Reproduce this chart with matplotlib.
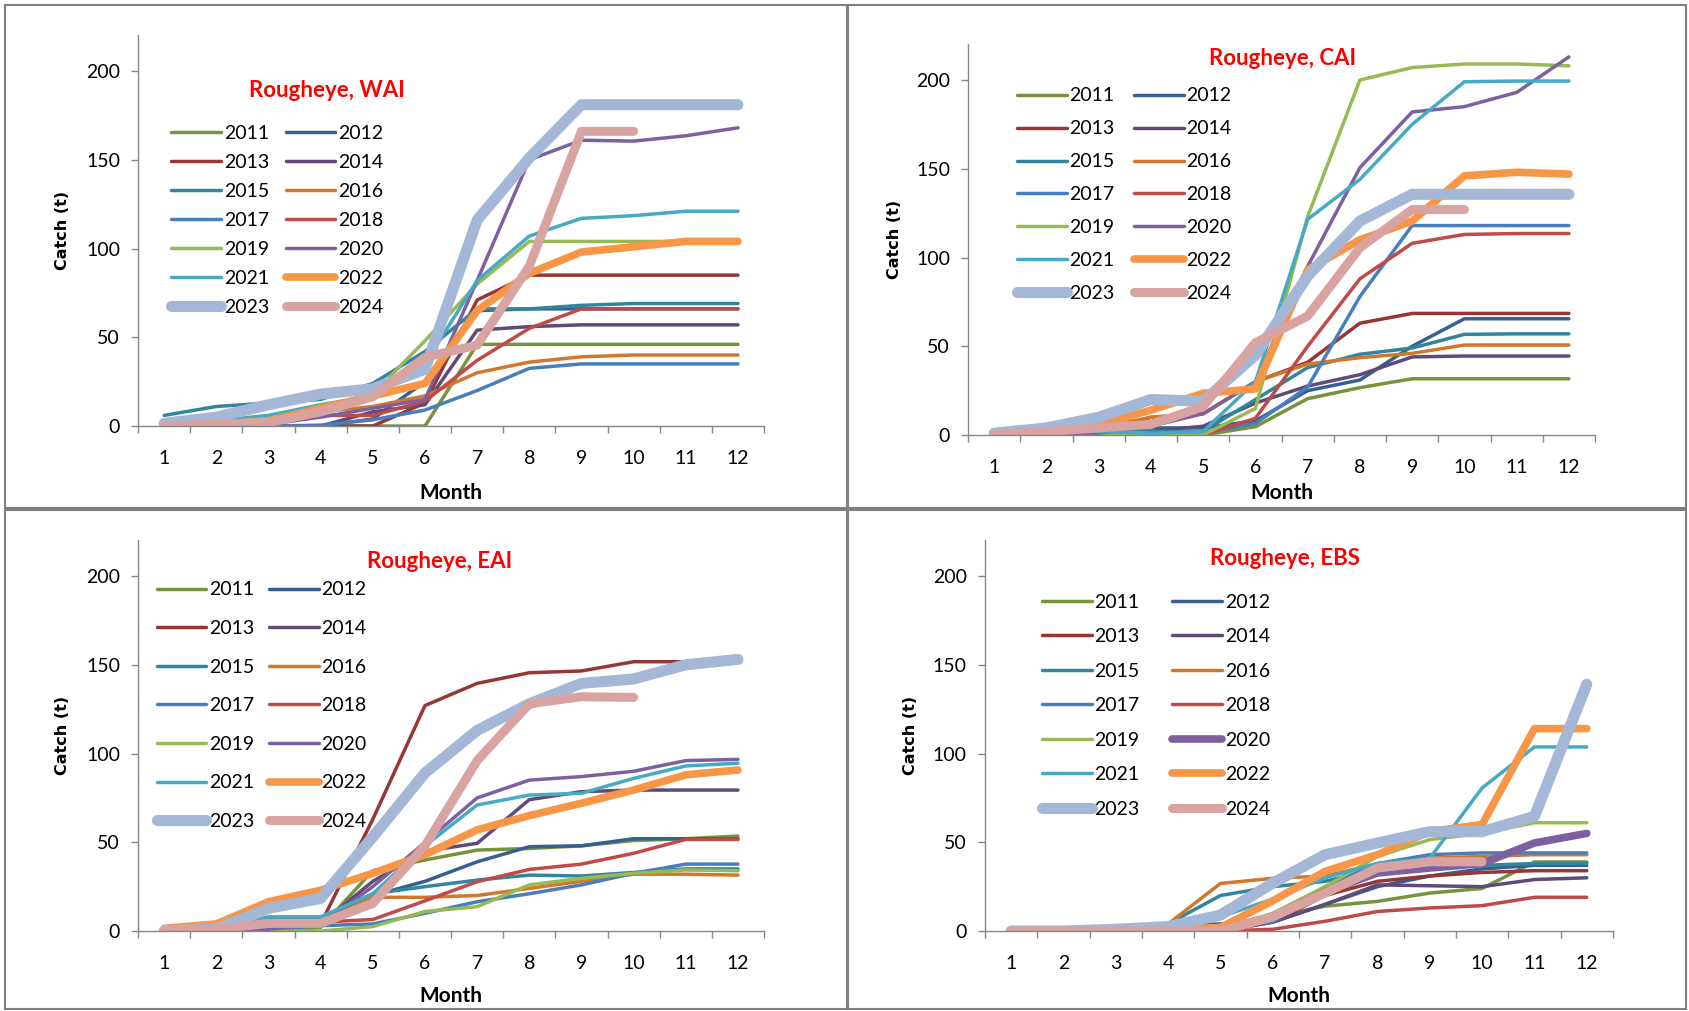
import numpy as np
import matplotlib.pyplot as plt
from matplotlib.patches import Rectangle

months = list(range(1, 13))
years = [2011, 2012, 2013, 2014, 2015, 2016, 2017, 2018, 2019, 2020, 2021, 2022, 2023, 2024]

# cumulative catch (t) by month, one row per year
wai = [
    [0, 0, 0, 0, 0, 0, 46, 46, 46, 46, 46, 46],
    [0, 0, 0, 0, 4, 25, 65, 66, 66, 66, 66, 66],
    [0, 0, 0, 0, 0, 13, 71, 85, 85, 85, 85, 85],
    [0, 0, 0, 0, 8, 12, 54, 56, 57, 57, 57, 57],
    [6, 11, 13, 15, 24, 42, 66, 66, 68, 69, 69, 69],
    [1, 2, 4, 8, 11, 17, 30, 36, 39, 40, 40, 40],
    [0, 0, 0, 0.5, 3.5, 9, 20, 32.5, 35, 35, 35, 35],
    [0, 0, 1, 6, 6, 14, 37, 55, 66, 66, 66, 66],
    [0, 1, 2, 8, 18, 48, 80, 104, 104, 104, 104, 104],
    [0, 0, 1, 5, 10, 15, 82, 150, 161, 160.5, 163.5, 168],
    [2, 3, 6, 12, 17, 35, 82, 107, 117, 118.5, 121, 121],
    [0, 1, 3, 10, 17, 24, 65, 86, 98, 101, 104, 104],
    [1.5, 5, 12, 18, 21, 32, 116, 151, 181, 181, 181, 181],
    [0, 1, 2, 8, 16.5, 38.7, 45.6, 90, 166, 166, None, None],
]

cai = [
    [0, 0, 0, 0, 0, 4.7, 20.5, 26.7, 31.7, 31.7, 31.7, 31.7],
    [2, 3, 3, 4, 4, 8, 25, 31, 50, 65.5, 65.5, 65.5],
    [0, 1, 2, 10, 12, 30, 41, 63, 68.5, 68.5, 68.5, 68.5],
    [0, 0, 0, 2, 5, 18, 27.6, 34, 44, 44.5, 44.5, 44.5],
    [3, 4, 3, 2, 2, 20, 38, 45.5, 49, 56.7, 57, 57],
    [1, 2, 4, 10, 12, 30, 40, 43.6, 46, 50.7, 50.7, 50.7],
    [0, 0, 0, 0, 1, 6.5, 27, 78, 118, 118, 118, 118],
    [0, 0, 0, 0, 0, 9.4, 50, 88, 108, 113, 113.5, 113.5],
    [0, 0, 0, 0, 0, 15, 123, 200, 207, 209, 209, 208],
    [0, 0, 1, 5, 12, 30, 95, 150.6, 182, 185, 193, 213],
    [2, 3, 2, 1, 2, 30, 121.5, 144, 175, 199, 199.4, 199.4],
    [1, 3, 6, 14, 23.5, 26, 93, 110, 120.5, 146, 148, 147],
    [1, 4, 10, 20, 19, 45, 89.6, 120.5, 135.6, 135.6, 135.6, 135.6],
    [0, 2, 4, 6, 16, 52, 67, 105.5, 127, 127, None, None],
]

eai = [
    [0, 0, 0, 2, 34, 40, 45.6, 46.5, 48, 51, 52, 53.5],
    [0, 0, 0, 4, 20, 28, 39, 47.5, 48, 52, 52, 52],
    [0, 0, 0, 4, 63, 127, 139.5, 145.5, 146.5, 151.7, 151.7, 152],
    [0, 0, 1, 4, 28, 45, 49.4, 74, 78.5, 79.4, 79.4, 79.4],
    [0, 1, 7, 7, 21, 25, 28.7, 31.5, 31, 33, 35, 35],
    [0, 1, 3, 5, 19, 19, 20, 24, 28, 32, 32, 31.5],
    [0, 0, 1, 3, 4, 10, 16.5, 21, 26, 32.5, 37.7, 37.7],
    [0, 0, 1, 5, 6.5, 17, 27.8, 34.7, 37.7, 43.8, 51.6, 51.6],
    [0, 0, 0, 0, 2.5, 11, 13.7, 26, 29.7, 32.5, 34.4, 34],
    [0, 0, 1, 4, 25, 50, 75, 85, 87, 90, 96, 96.7],
    [0, 1, 8, 8, 21, 48, 71, 76.6, 77.6, 86, 93, 94.5],
    [1.5, 4, 16.5, 23, 32.5, 43, 57, 65, 72, 79.4, 88, 90.7],
    [0, 1, 12.8, 18.4, 53, 89, 113, 128, 139.5, 142, 150, 153],
    [0, 1, 4.3, 4.3, 15.6, 48, 96, 128, 132, 131.6, None, None],
]

ebs = [
    [0, 0, 0, 0, 1, 8, 14, 16.7, 21.4, 24, 38.9, 38.9],
    [0, 0, 2, 3, 4, 5, 15, 25, 31, 35, 37, 37],
    [0, 0, 0, 0, 0, 5, 20, 28, 31, 33, 34, 34],
    [0, 0, 0, 0, 0, 5, 15, 26, 25.5, 25, 29, 30],
    [0, 0, 1, 4, 20, 25, 28, 35, 37, 37, 38, 38.3],
    [0, 0, 2, 4, 26.8, 29.7, 31, 38, 41, 42, 43, 43],
    [0, 0, 1, 2, 3, 5, 25, 38, 43, 44, 44, 44],
    [0, 0, 0, 0, 0, 1, 5.5, 11, 13, 14.3, 19, 19],
    [0, 0, 0, 0, 1, 10, 25, 42, 51.5, 55, 61, 61],
    [0, 0, 0, 0, 1, 8, 22, 32.7, 35.5, 38, 49.6, 55],
    [0, 0, 0, 1, 8, 18, 30, 38, 41, 80.6, 103.7, 103.7],
    [0, 0, 0, 1, 2, 17, 33.6, 43, 56, 60, 114, 114],
    [0, 0, 1, 2.5, 9, 27, 43, 49.6, 56, 56, 64.6, 139],
    [0, 0, 0, 0, 0, 8, 21.4, 35.5, 39, 39, None, None],
]

colors = ['#77933C', '#376092', '#953735', '#604A7B', '#31859C', '#D2782E', '#4A7EBB',
          '#BE4B48', '#98B954', '#7D60A0', '#46AAC5', '#F79646', '#A5B7D6', '#D8A3A1']

# name, data, axes rect, title pos, legend anchor, labelspacing, columnspacing, ylabel x, xlabel y, thick years
panels = [
    ("Rougheye, WAI", wai, [0.0817, 0.5786, 0.3704, 0.3863], (0.302, 0.860), (0.053, 0.772), 0.62, 0.85, -0.109, -0.172, [2022]),
    ("Rougheye, CAI", cai, [0.5728, 0.5697, 0.3710, 0.3863], (0.502, 0.965), (0.078, 0.890), 0.82, 1.0, -0.105, -0.149, [2022]),
    ("Rougheye, EAI", eai, [0.0817, 0.0791, 0.3704, 0.3863], (0.482, 0.945), (0.030, 0.895), 1.11, 0.74, -0.109, -0.166, [2022]),
    ("Rougheye, EBS", ebs, [0.5828, 0.0791, 0.3716, 0.3863], (0.478, 0.953), (0.091, 0.864), 0.90, 1.67, -0.107, -0.166, [2020, 2022]),
]

fig = plt.figure(figsize=(16.9, 10.11), dpi=100)

# panel frames (like separate Excel chart boxes)
for x0, y0, x1, y1 in [(5, 5, 847, 508), (848, 5, 1686, 508), (5, 510, 847, 1009), (848, 510, 1686, 1009)]:
    fig.add_artist(Rectangle((x0 / 1690, 1 - y1 / 1011), (x1 - x0) / 1690, (y1 - y0) / 1011,
                             transform=fig.transFigure, fill=False, edgecolor='#7f7f7f', lw=1.5))

for title, data, rect, tpos, lpos, lsp, csp, ylx, xly, thick in panels:
    ax = fig.add_axes(rect)
    vals = np.array(data, dtype=float)
    for i, yr in enumerate(years):
        if yr == 2023:
            lw = 8
        elif yr == 2024:
            lw = 6.5
        elif yr in thick:
            lw = 5.5
        else:
            lw = 2.5
        ax.plot(months, vals[i], color=colors[i], lw=lw, label=str(yr),
                solid_capstyle='round', solid_joinstyle='round')

    ax.set_xlim(0.5, 12.5)
    ax.set_ylim(0, 220)
    ax.set_yticks([0, 50, 100, 150, 200])
    ax.set_xticks(months)
    ax.set_xticks(np.arange(0.5, 13, 1), minor=True)
    ax.tick_params(axis='x', which='major', length=0, pad=17, labelsize=14)
    ax.tick_params(axis='x', which='minor', length=5, width=1, color='#868686', direction='out')
    ax.tick_params(axis='y', length=5, width=1, color='#868686', pad=8, labelsize=14)
    for lab in ax.get_xticklabels() + ax.get_yticklabels():
        lab.set_fontfamily('Lato')
    for s in ['top', 'right']:
        ax.spines[s].set_visible(False)
    for s in ['left', 'bottom']:
        ax.spines[s].set_color('#868686')
        ax.spines[s].set_linewidth(1)

    ax.set_ylabel('Catch (t)', fontfamily='DejaVu Sans', fontweight='bold', fontsize=11.5)
    ax.yaxis.set_label_coords(ylx, 0.5)
    ax.set_xlabel('Month', fontfamily='Lato', fontweight='bold', fontsize=15, va='center')
    ax.xaxis.set_label_coords(0.5, xly)

    ax.text(tpos[0], tpos[1], title, transform=ax.transAxes, ha='center', va='center',
            color='red', fontsize=16, fontweight='bold', fontfamily='Lato')

    h, l = ax.get_legend_handles_labels()
    order = list(range(0, 14, 2)) + list(range(1, 14, 2))
    ax.legend([h[i] for i in order], [l[i] for i in order], loc='upper left', bbox_to_anchor=lpos,
              ncol=2, frameon=False, borderpad=0, borderaxespad=0, handlelength=2.55,
              handletextpad=0.15, columnspacing=csp, labelspacing=lsp,
              prop={'family': 'Lato', 'size': 14})

fig.savefig('out.png', dpi=100)
